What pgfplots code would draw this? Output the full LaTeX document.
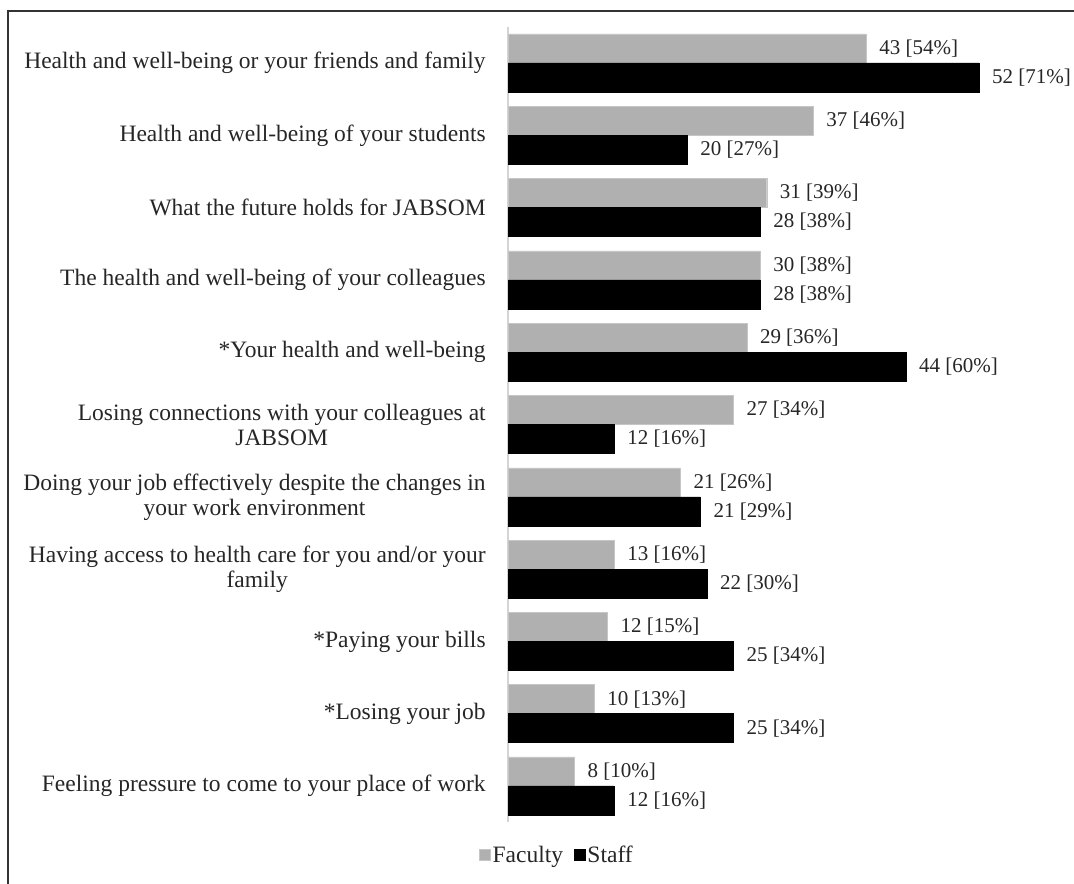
\documentclass[border=0pt]{standalone}
\usepackage{fontspec}
\setmainfont{Liberation Serif}
\usepackage{pgfplots}
\usepackage{pgfplotstable}
\pgfplotsset{compat=1.18}
\definecolor{facgray}{HTML}{B0B0B0}
\definecolor{facedge}{HTML}{C6C6C6}
\definecolor{axgray}{HTML}{D4D4D4}
\definecolor{framecol}{HTML}{333333}
\pgfplotstableread{
y p lbl
10 54 {43 [54\%]}
9 46 {37 [46\%]}
8 39 {31 [39\%]}
7 38 {30 [38\%]}
6 36 {29 [36\%]}
5 34 {27 [34\%]}
4 26 {21 [26\%]}
3 16 {13 [16\%]}
2 15 {12 [15\%]}
1 13 {10 [13\%]}
0 10 {8 [10\%]}
}\faculty
\pgfplotstableread{
y p lbl
10 71 {52 [71\%]}
9 27 {20 [27\%]}
8 38 {28 [38\%]}
7 38 {28 [38\%]}
6 60 {44 [60\%]}
5 16 {12 [16\%]}
4 29 {21 [29\%]}
3 30 {22 [30\%]}
2 34 {25 [34\%]}
1 34 {25 [34\%]}
0 16 {12 [16\%]}
}\staff
\begin{document}
\begin{tikzpicture}
\useasboundingbox (0bp,0bp) rectangle (1074bp,884bp);
\draw[framecol, line width=2.5bp] (8bp,873bp) -- (1074bp,873bp);
\draw[framecol, line width=2.5bp] (8bp,874.25bp) -- (8bp,0bp);
\begin{axis}[
  at={(508bp,61.85bp)}, anchor=south west,
  scale only axis, width=530.7bp, height=795.3bp,
  xbar, bar width=29bp,
  xmin=0, xmax=80, ymin=-0.5, ymax=10.5,
  axis x line=none, axis y line=left,
  y axis line style={-, draw=axgray, line width=1.5bp},
  ytick={0,...,10},
  ytick style={draw=none},
  yticklabels={
    {Feeling pressure to come to your place of work},
    {*Losing your job},
    {*Paying your bills},
    {Having access to health care for you and/or your\\family},
    {Doing your job effectively despite the changes in\\your work environment},
    {Losing connections with your colleagues at\\JABSOM},
    {*Your health and well-being},
    {The health and well-being of your colleagues},
    {What the future holds for JABSOM},
    {Health and well-being of your students},
    {Health and well-being or your friends and family}},
  yticklabel style={font=\fontsize{23.5bp}{25bp}\selectfont, align=center, inner sep=0pt, xshift=-20bp, text=black!85},
  point meta=explicit symbolic,
  nodes near coords={\pgfplotspointmeta},
  every node near coord/.append style={font=\fontsize{21bp}{22bp}\selectfont, inner sep=0pt, xshift=13bp, anchor=west, text=black!85},
  legend image code/.code={\fill[#1] (0bp,-5.5bp) rectangle (11bp,5.5bp);},
  legend style={at={(0.0923,-0.0413)}, anchor=center, draw=none, legend columns=2,
    font=\fontsize{23.5bp}{25bp}\selectfont, text=black!85,
    /tikz/every even column/.append style={column sep=9bp}},
]
\addplot[fill=facgray, draw=facedge, bar shift=14.5bp]
  table[x=p, y=y, meta=lbl] {\faculty};
\addplot[fill=black, draw=black, bar shift=-14.5bp]
  table[x=p, y=y, meta=lbl] {\staff};
\legend{Faculty, Staff}
\end{axis}
\end{tikzpicture}
\end{document}
